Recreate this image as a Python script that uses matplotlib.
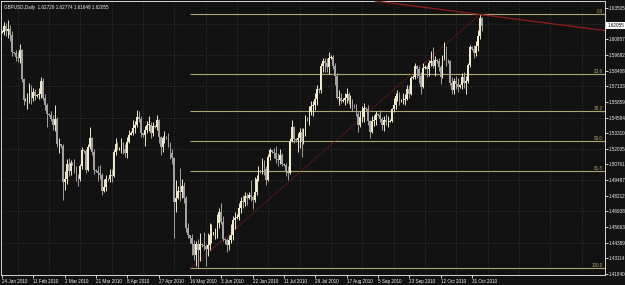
import matplotlib.pyplot as plt
from matplotlib import transforms, font_manager
import numpy as np
import pandas as pd

# GBPUSD daily, 24 Jan 2010 - 5 Nov 2010 (broker feed has Sunday bars)
first_open = 1.6150
closes = [
    1.6155, 1.6200, 1.6160, 1.6180, 1.6130, 1.5990,
    1.5985, 1.5950, 1.5940, 1.6010, 1.5770, 1.5600,
    1.5610, 1.5620, 1.5710, 1.5620, 1.5670, 1.5630,
    1.5640, 1.5650, 1.5760, 1.5620, 1.5560, 1.5490,
    1.5480, 1.5450, 1.5400, 1.5450, 1.5240, 1.5240,
    1.5230, 1.4930, 1.4960, 1.5080, 1.5020, 1.5090,
    1.5085, 1.5050, 1.4980, 1.4960, 1.5060, 1.5190,
    1.5185, 1.5030, 1.5220, 1.5290, 1.5180, 1.5030,
    1.5025, 1.5010, 1.4990, 1.4860, 1.4890, 1.4960,
    1.4955, 1.4990, 1.4980, 1.5180, 1.5240, 1.5200,
    1.5205, 1.5250, 1.5200, 1.5170, 1.5260, 1.5320,
    1.5330, 1.5370, 1.5400, 1.5460, 1.5450, 1.5330,
    1.5320, 1.5360, 1.5400, 1.5400, 1.5330, 1.5390,
    1.5385, 1.5440, 1.5300, 1.5220, 1.5290, 1.5300,
    1.5290, 1.5240, 1.5170, 1.5130, 1.4770, 1.4800,
    1.4860, 1.4850, 1.4900, 1.4800, 1.4560, 1.4500,
    1.4480, 1.4430, 1.4340, 1.4430, 1.4380, 1.4430,
    1.4420, 1.4410, 1.4390, 1.4420, 1.4500, 1.4520,
    1.4520, 1.4530, 1.4600, 1.4690, 1.4610, 1.4470,
    1.4460, 1.4420, 1.4460, 1.4500, 1.4620, 1.4640,
    1.4650, 1.4720, 1.4780, 1.4770, 1.4820, 1.4800,
    1.4830, 1.4810, 1.4790, 1.4850, 1.4960, 1.5030,
    1.5020, 1.5060, 1.5040, 1.4950, 1.5140, 1.5190,
    1.5180, 1.5170, 1.5120, 1.5110, 1.5150, 1.5080,
    1.5075, 1.5020, 1.5010, 1.5270, 1.5380, 1.5280,
    1.5275, 1.5290, 1.5340, 1.5260, 1.5340, 1.5450,
    1.5440, 1.5500, 1.5550, 1.5560, 1.5610, 1.5690,
    1.5680, 1.5880, 1.5920, 1.5900, 1.5870, 1.5940,
    1.5950, 1.5880, 1.5800, 1.5620, 1.5620, 1.5590,
    1.5600, 1.5620, 1.5650, 1.5590, 1.5590, 1.5560,
    1.5550, 1.5490, 1.5400, 1.5460, 1.5460, 1.5540,
    1.5530, 1.5430, 1.5340, 1.5430, 1.5440, 1.5490,
    1.5480, 1.5450, 1.5400, 1.5440, 1.5420, 1.5420,
    1.5430, 1.5530, 1.5560, 1.5630, 1.5650, 1.5590,
    1.5600, 1.5600, 1.5610, 1.5690, 1.5650, 1.5780,
    1.5790, 1.5880, 1.5850, 1.5800, 1.5710, 1.5860,
    1.5870, 1.5850, 1.5900, 1.5920, 1.5880, 1.5930,
    1.5920, 1.5870, 1.5790, 1.5940, 1.6000, 1.5930,
    1.5920, 1.5740, 1.5680, 1.5760, 1.5730, 1.5710,
    1.5720, 1.5790, 1.5740, 1.5760, 1.5890, 1.6030,
    1.6020, 1.5980, 1.6040, 1.6120, 1.6273, 1.62055,
]
highs = [
    1.6170, 1.6240, 1.6225, 1.6250, 1.6210, 1.6160,
    1.5995, 1.6010, 1.5990, 1.6060, 1.6020, 1.5780,
    1.5620, 1.5660, 1.5740, 1.5720, 1.5700, 1.5690,
    1.5650, 1.5700, 1.5790, 1.5780, 1.5650, 1.5580,
    1.5495, 1.5510, 1.5480, 1.5560, 1.5460, 1.5290,
    1.5245, 1.5240, 1.5020, 1.5120, 1.5130, 1.5110,
    1.5095, 1.5120, 1.5060, 1.5000, 1.5080, 1.5220,
    1.5195, 1.5200, 1.5240, 1.5380, 1.5300, 1.5200,
    1.5040, 1.5060, 1.5070, 1.5010, 1.4960, 1.4990,
    1.4965, 1.5040, 1.5040, 1.5200, 1.5290, 1.5260,
    1.5215, 1.5290, 1.5260, 1.5240, 1.5300, 1.5360,
    1.5345, 1.5440, 1.5430, 1.5520, 1.5510, 1.5470,
    1.5335, 1.5390, 1.5430, 1.5470, 1.5420, 1.5420,
    1.5395, 1.5480, 1.5450, 1.5310, 1.5310, 1.5350,
    1.5305, 1.5330, 1.5260, 1.5200, 1.5140, 1.4950,
    1.4900, 1.5050, 1.4960, 1.4930, 1.4820, 1.4600,
    1.4495, 1.4510, 1.4460, 1.4450, 1.4470, 1.4520,
    1.4435, 1.4530, 1.4430, 1.4520, 1.4600, 1.4590,
    1.4530, 1.4560, 1.4670, 1.4720, 1.4760, 1.4660,
    1.4475, 1.4480, 1.4500, 1.4590, 1.4660, 1.4690,
    1.4670, 1.4760, 1.4810, 1.4830, 1.4850, 1.4840,
    1.4850, 1.4950, 1.4830, 1.4970, 1.4990, 1.5060,
    1.5035, 1.5130, 1.5110, 1.5060, 1.5160, 1.5210,
    1.5195, 1.5210, 1.5230, 1.5170, 1.5200, 1.5170,
    1.5090, 1.5090, 1.5060, 1.5290, 1.5440, 1.5390,
    1.5290, 1.5330, 1.5370, 1.5370, 1.5370, 1.5480,
    1.5460, 1.5550, 1.5590, 1.5590, 1.5660, 1.5720,
    1.5700, 1.5900, 1.5940, 1.5940, 1.5940, 1.5990,
    1.5965, 1.5970, 1.5900, 1.5820, 1.5680, 1.5660,
    1.5615, 1.5660, 1.5700, 1.5670, 1.5640, 1.5610,
    1.5565, 1.5570, 1.5510, 1.5510, 1.5550, 1.5580,
    1.5545, 1.5560, 1.5440, 1.5470, 1.5480, 1.5510,
    1.5495, 1.5520, 1.5460, 1.5470, 1.5490, 1.5470,
    1.5445, 1.5540, 1.5620, 1.5660, 1.5680, 1.5670,
    1.5610, 1.5660, 1.5650, 1.5720, 1.5720, 1.5800,
    1.5805, 1.5900, 1.5890, 1.5880, 1.5830, 1.5900,
    1.5885, 1.5890, 1.5930, 1.6000, 1.6030, 1.5960,
    1.5935, 1.5940, 1.5890, 1.5970, 1.6070, 1.6040,
    1.5935, 1.5930, 1.5790, 1.5780, 1.5800, 1.5780,
    1.5735, 1.5820, 1.5830, 1.5800, 1.5900, 1.6050,
    1.6040, 1.6050, 1.6080, 1.6170, 1.6298, 1.62774,
]
lows = [
    1.6145, 1.6130, 1.6120, 1.6110, 1.6080, 1.5960,
    1.5975, 1.5920, 1.5910, 1.5900, 1.5750, 1.5560,
    1.5595, 1.5530, 1.5580, 1.5570, 1.5590, 1.5600,
    1.5625, 1.5610, 1.5620, 1.5600, 1.5520, 1.5380,
    1.5470, 1.5430, 1.5360, 1.5350, 1.5220, 1.5170,
    1.5210, 1.4785, 1.4870, 1.4920, 1.4980, 1.4990,
    1.5075, 1.5010, 1.4940, 1.4900, 1.4940, 1.5040,
    1.5170, 1.5010, 1.5020, 1.5200, 1.5150, 1.5000,
    1.5015, 1.4940, 1.4960, 1.4830, 1.4850, 1.4860,
    1.4945, 1.4930, 1.4930, 1.4970, 1.5150, 1.5190,
    1.5195, 1.5170, 1.5160, 1.5140, 1.5130, 1.5250,
    1.5320, 1.5320, 1.5330, 1.5380, 1.5420, 1.5300,
    1.5300, 1.5230, 1.5330, 1.5350, 1.5290, 1.5310,
    1.5375, 1.5360, 1.5250, 1.5150, 1.5180, 1.5250,
    1.5280, 1.5220, 1.5120, 1.5080, 1.4475, 1.4690,
    1.4795, 1.4780, 1.4800, 1.4760, 1.4530, 1.4480,
    1.4440, 1.4340, 1.4300, 1.4250, 1.4230, 1.4290,
    1.4405, 1.4380, 1.4250, 1.4330, 1.4380, 1.4440,
    1.4505, 1.4470, 1.4480, 1.4560, 1.4590, 1.4450,
    1.4430, 1.4360, 1.4380, 1.4440, 1.4460, 1.4550,
    1.4635, 1.4620, 1.4680, 1.4720, 1.4740, 1.4750,
    1.4795, 1.4780, 1.4710, 1.4770, 1.4830, 1.4940,
    1.5010, 1.5000, 1.4990, 1.4910, 1.4940, 1.5110,
    1.5170, 1.5130, 1.5090, 1.5060, 1.5080, 1.5060,
    1.5060, 1.4980, 1.4950, 1.5000, 1.5260, 1.5250,
    1.5260, 1.5180, 1.5210, 1.5140, 1.5240, 1.5310,
    1.5430, 1.5400, 1.5480, 1.5470, 1.5520, 1.5560,
    1.5660, 1.5660, 1.5830, 1.5830, 1.5830, 1.5810,
    1.5935, 1.5850, 1.5720, 1.5610, 1.5560, 1.5580,
    1.5585, 1.5560, 1.5580, 1.5570, 1.5540, 1.5510,
    1.5540, 1.5470, 1.5340, 1.5380, 1.5420, 1.5420,
    1.5515, 1.5400, 1.5290, 1.5330, 1.5390, 1.5400,
    1.5470, 1.5420, 1.5360, 1.5350, 1.5400, 1.5380,
    1.5420, 1.5420, 1.5500, 1.5530, 1.5590, 1.5560,
    1.5585, 1.5570, 1.5560, 1.5600, 1.5620, 1.5640,
    1.5775, 1.5770, 1.5780, 1.5740, 1.5650, 1.5700,
    1.5855, 1.5790, 1.5800, 1.5880, 1.5860, 1.5800,
    1.5905, 1.5840, 1.5730, 1.5780, 1.5930, 1.5880,
    1.5900, 1.5720, 1.5650, 1.5650, 1.5690, 1.5670,
    1.5700, 1.5690, 1.5700, 1.5650, 1.5740, 1.5870,
    1.6010, 1.5940, 1.5960, 1.6000, 1.6100, 1.61648,
]

date_labels = ['24 Jan 2010', '11 Feb 2010', '2 Mar 2010', '21 Mar 2010',
               '8 Apr 2010', '27 Apr 2010', '16 May 2010', '3 Jun 2010',
               '22 Jun 2010', '11 Jul 2010', '29 Jul 2010', '17 Aug 2010',
               '5 Sep 2010', '23 Sep 2010', '12 Oct 2010', '31 Oct 2010']
# 1.62231 sits under the current-price box, so it is not listed
price_labels = ['1.63505', '1.60957', '1.59682', '1.58408', '1.57133',
                '1.55859', '1.54584', '1.53310', '1.52035', '1.50761', '1.49487',
                '1.48212', '1.46938', '1.45663', '1.44389', '1.43114', '1.41840']
grid_prices = [1.62231, 1.59682, 1.57133, 1.54584, 1.52035, 1.49487, 1.46938, 1.44389]
title = 'GBPUSD,Daily  1.62729 1.62774 1.61648 1.62055'
last_price = 1.62055

# fibonacci retracement anchors (bar index, price) and the red trend line
fib_levels = [0.0, 23.6, 38.2, 50.0, 61.8, 100.0]
fib_low = (96, 1.4229)
fib_high = (244, 1.6298)
trend_a = (185, 1.6419)
trend_b = (244, 1.6298)

bg = '#121212'
fg = '#f2f2f2'
grid_c = '#3e3e3e'
up_c = '#efeacb'
dn_c = '#a2a2a2'
fib_c = '#aba672'
red_c = '#8e1d1d'

have = {f.name for f in font_manager.fontManager.ttflist}
fams = [f for f in ['Liberation Sans Narrow', 'DejaVu Sans Condensed', 'Liberation Sans'] if f in have]
plt.rcParams['font.family'] = fams + ['DejaVu Sans']
fs = 3.3

dates = pd.bdate_range('2010-01-24', '2010-11-05', freq='C',
                       weekmask='Sun Mon Tue Wed Thu Fri')
x = np.arange(len(dates))
c = np.array(closes)
h = np.array(highs)
l = np.array(lows)
o = np.r_[first_open, c[:-1]]
up = c >= o
cols = np.where(up, up_c, dn_c)

fig = plt.figure(figsize=(6.25, 2.85), dpi=100, facecolor=bg)
ax = fig.add_axes([1 / 625, 10 / 285, 604 / 625, 274 / 285], facecolor=bg)
xmax = 308
ax.set_xlim(-0.5, xmax)
ax.set_ylim(1.41759, 1.64075)

# dotted grid
ax.vlines(np.arange(8, xmax, 16), 1.40, 1.65, colors=grid_c, lw=0.6,
          linestyles=(0, (1, 2)), zorder=0)
ax.hlines(grid_prices, -1, xmax, colors=grid_c, lw=0.6,
          linestyles=(0, (1, 2)), zorder=0)

# candles
ax.vlines(x, np.minimum(l, np.minimum(o, c)), np.maximum(h, np.maximum(o, c)),
          colors=cols, lw=0.7, zorder=3)
ax.bar(x, np.maximum(np.abs(c - o), 0.00025), bottom=np.minimum(o, c), width=0.85,
       color=cols, lw=0, zorder=3)

# fibonacci
span = fib_high[1] - fib_low[1]
for lev in fib_levels:
    p = fib_high[1] - span * lev / 100
    ax.hlines(p, fib_low[0], xmax, colors=fib_c, lw=0.8, zorder=2)
    ax.text(306.8, p + 0.0004, f'{lev:.1f}', color=fib_c, fontsize=fs,
            ha='right', va='bottom', zorder=4)
ax.plot([fib_low[0], fib_high[0]], [fib_low[1], fib_high[1]], color=red_c, lw=0.8,
        ls=(0, (1, 1.3)), zorder=2)
ax.axline(trend_a, trend_b, color=red_c, lw=0.9, zorder=4)

# axes
for s in ax.spines.values():
    s.set_color('#d6d6d6')
    s.set_linewidth(0.7)
ax.yaxis.tick_right()
ax.set_yticks([float(p) for p in price_labels])
ax.set_yticklabels(price_labels)
ax.set_xticks([dates.get_loc(pd.Timestamp(d)) for d in date_labels])
ax.set_xticklabels(date_labels, ha='left')
ax.tick_params(axis='both', colors=fg, length=2, width=0.6, labelsize=fs, pad=1.0)

mix = transforms.blended_transform_factory(ax.transAxes, ax.transData)
ax.text(1.004, last_price, f'{last_price:.5f}', transform=mix, color='black',
        fontsize=fs, ha='left', va='center', zorder=10, clip_on=False,
        bbox=dict(boxstyle='square,pad=0.2', fc='white', ec='none'))

fig.text(4 / 625, 1 - 7 / 285, title, color=fg, fontsize=fs, ha='left', va='center')

fig.savefig('out.png', dpi=100, facecolor=bg)
